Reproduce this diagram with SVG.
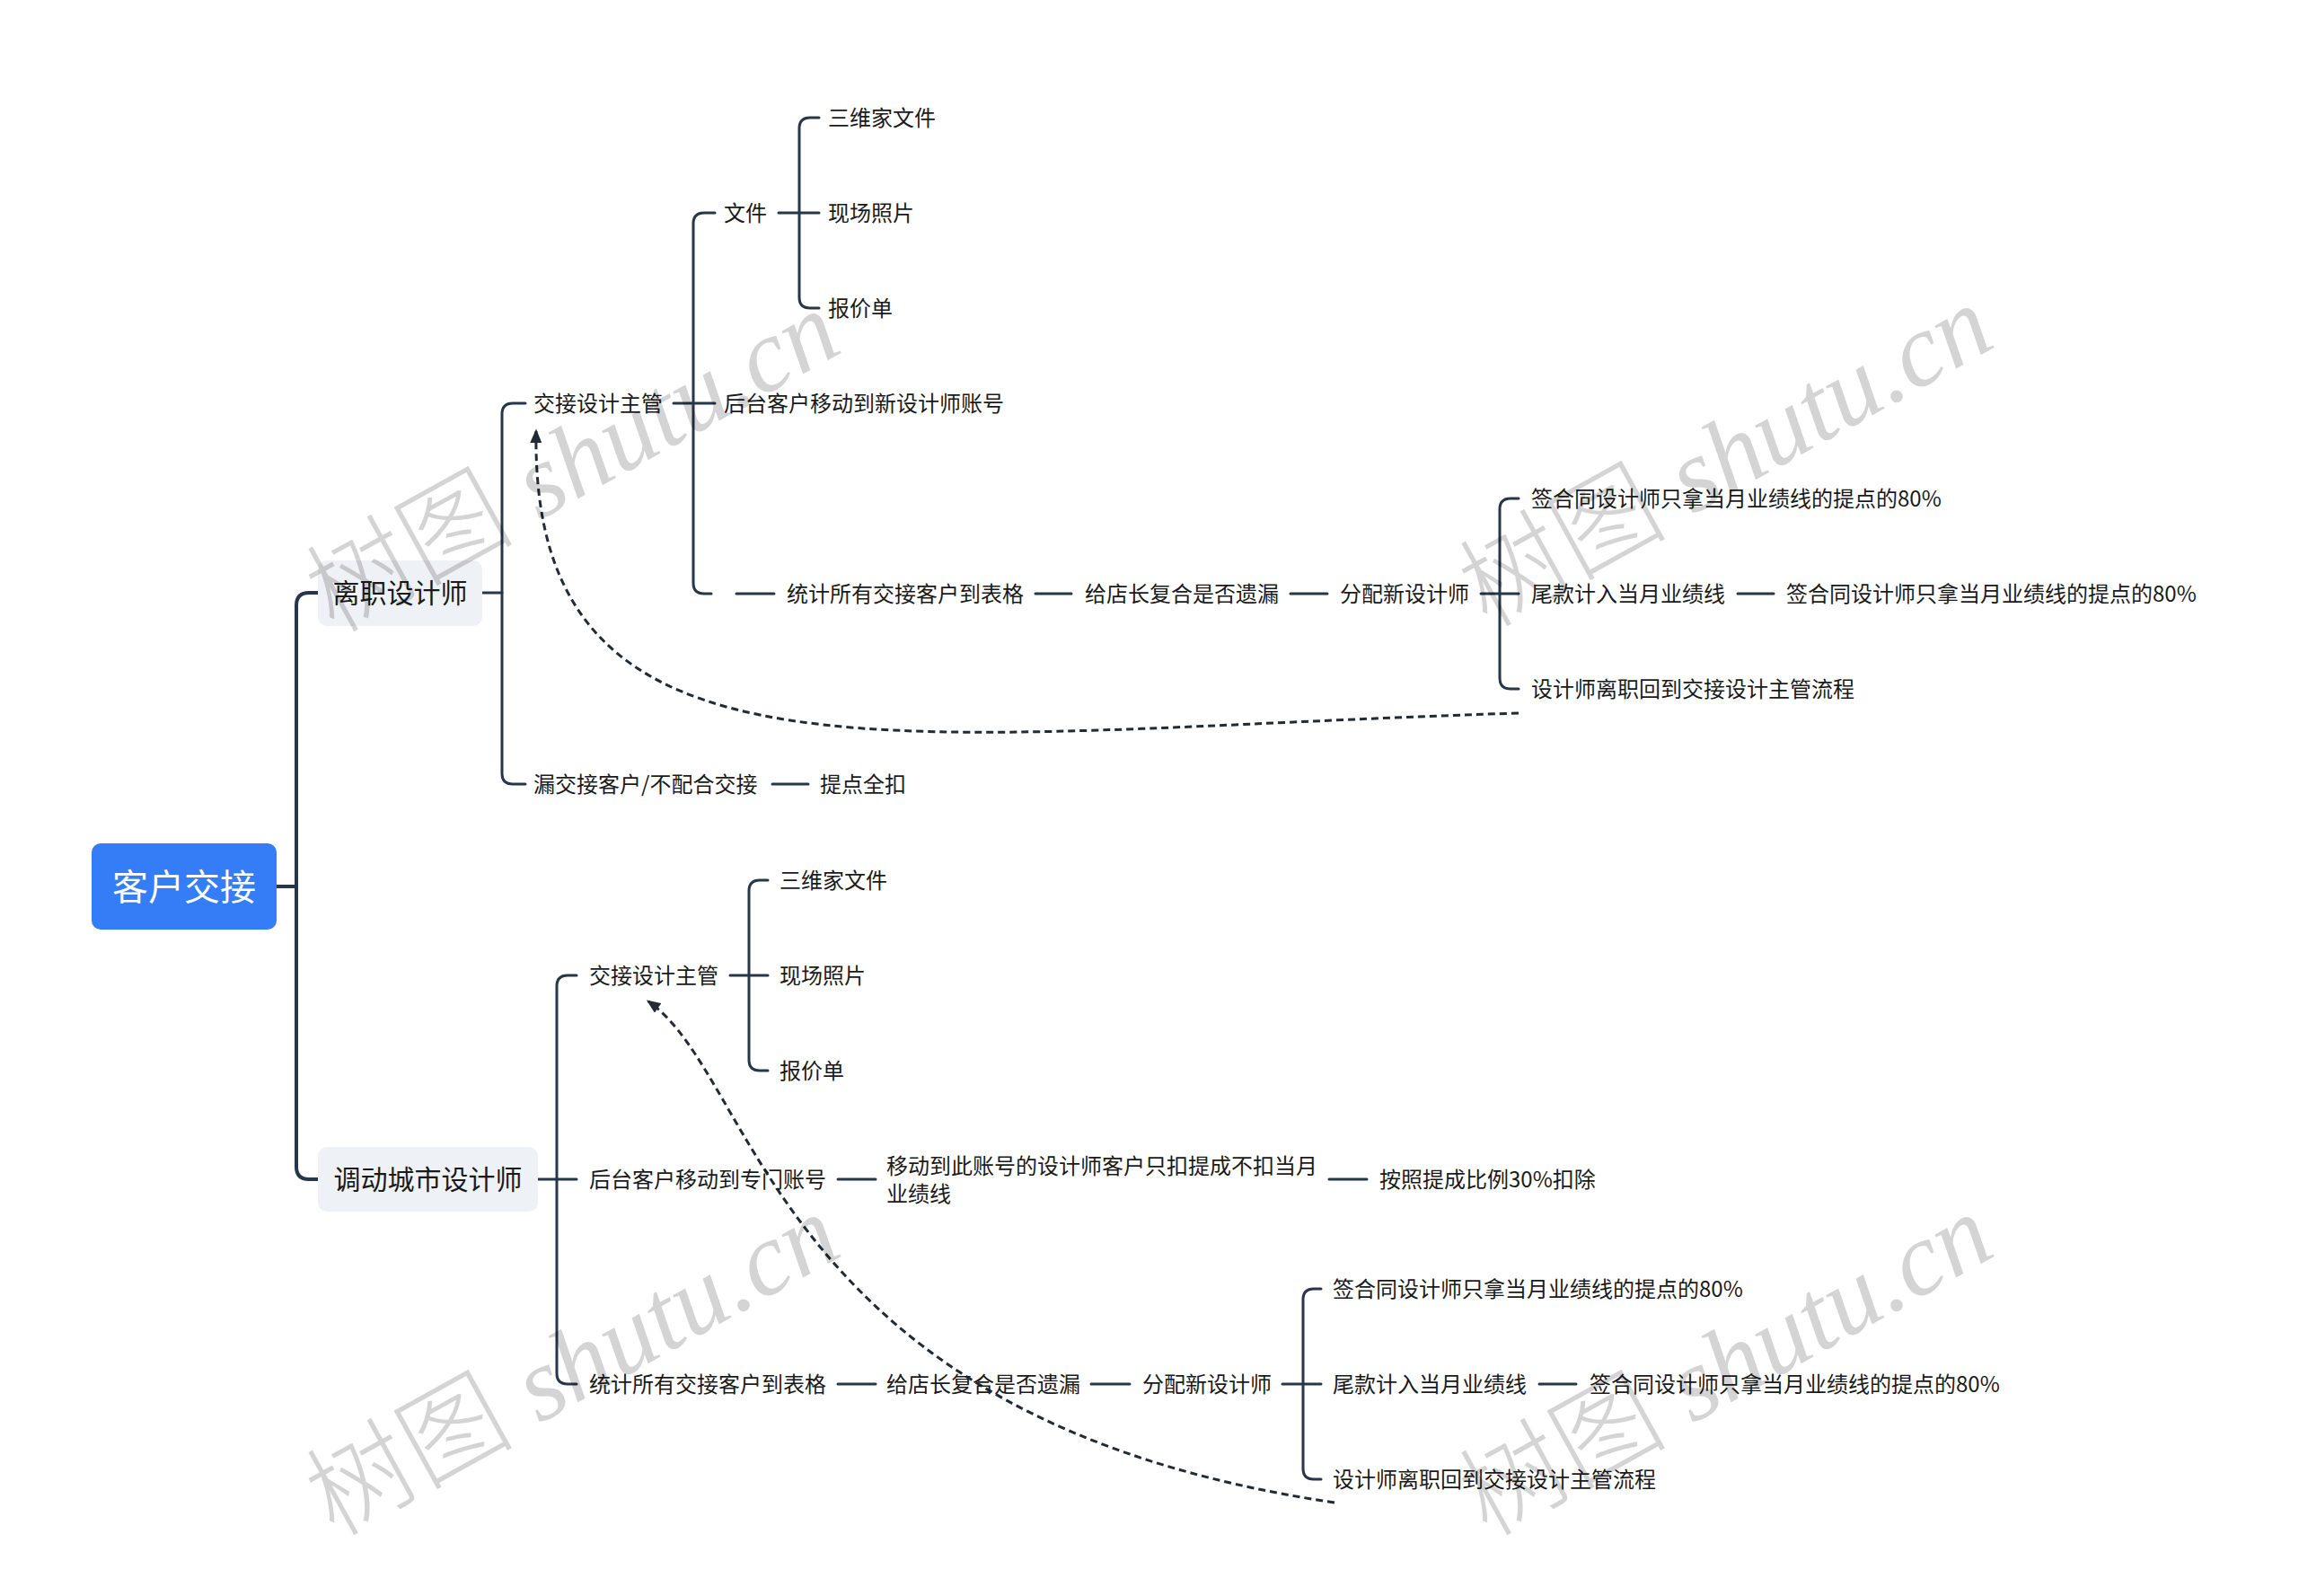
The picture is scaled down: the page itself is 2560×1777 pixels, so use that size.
<svg xmlns="http://www.w3.org/2000/svg" width="2560" height="1777" viewBox="0 0 2560 1777">
<defs>
<style>
.t{font-family:"Noto Sans CJK SC","Liberation Sans",sans-serif;font-size:24px;fill:#1a1a1a;dominant-baseline:central}
.l1{font-family:"Noto Sans CJK SC","Liberation Sans",sans-serif;font-size:30px;fill:#1a1a1a;dominant-baseline:central;text-anchor:middle}
.root{font-family:"Noto Sans CJK SC","Liberation Sans",sans-serif;font-size:40px;fill:#ffffff;dominant-baseline:central;text-anchor:middle}
.c{fill:none;stroke:#27364a;stroke-width:3;stroke-linecap:round}
.c4{fill:none;stroke:#27364a;stroke-width:4;stroke-linecap:round}
.rel{fill:none;stroke:#222a33;stroke-width:3;stroke-dasharray:8 5}
.wm{font-family:"Liberation Serif","Noto Sans CJK SC",serif;font-style:italic;font-size:116px;fill:#000;fill-opacity:0.17}
.wm tspan.cj{font-family:"Noto Sans CJK SC",sans-serif;font-style:normal;font-weight:300}
</style>
<marker id="arr" viewBox="0 0 12 10" refX="10" refY="5" markerWidth="16" markerHeight="13" markerUnits="userSpaceOnUse" orient="auto">
<path d="M0,0 L12,5 L0,10 z" fill="#222a33"/>
</marker>
</defs>
<rect width="2560" height="1777" fill="#ffffff"/>

<g id="connectors">
<path class="c4" d="M308,987 H330"/>
<path class="c4" d="M354,660 H344 Q330,660 330,674 V1299 Q330,1313 344,1313 H354"/>
<path class="c" d="M537,660 H559"/>
<path class="c" d="M585,449 H571 Q559,449 559,461 V861 Q559,873 571,873 H585"/>
<path class="c" d="M750,449 H796"/>
<path class="c" d="M796,237 H784 Q772,237 772,249 V649 Q772,661 784,661 H792"/>
<path class="c" d="M867,237 H912"/>
<path class="c" d="M912,131 H902 Q890,131 890,143 V331 Q890,343 902,343 H912"/>
<path class="c" d="M820,661 H862"/>
<path class="c" d="M1153,661 H1193"/>
<path class="c" d="M1437,661 H1478"/>
<path class="c" d="M1649,661 H1691"/>
<path class="c" d="M1691,555 H1682 Q1670,555 1670,567 V755 Q1670,767 1682,767 H1691"/>
<path class="c" d="M1935,661 H1975"/>
<path class="c" d="M860,873 H900"/>
<path class="c" d="M599,1313 H642"/>
<path class="c" d="M642,1086 H632 Q620,1086 620,1098 V1529 Q620,1541 632,1541 H642"/>
<path class="c" d="M813,1086 H855"/>
<path class="c" d="M855,980 H846 Q834,980 834,992 V1180 Q834,1192 846,1192 H855"/>
<path class="c" d="M933,1313 H975"/>
<path class="c" d="M1480,1313 H1522"/>
<path class="c" d="M933,1541 H975"/>
<path class="c" d="M1215,1541 H1258"/>
<path class="c" d="M1428,1541 H1471"/>
<path class="c" d="M1471,1435 H1463 Q1451,1435 1451,1447 V1635 Q1451,1647 1463,1647 H1471"/>
<path class="c" d="M1714,1541 H1755"/>
<path class="rel" d="M1691,794 C1000,815 590,900 597,480" marker-end="url(#arr)"/>
<path class="rel" d="M1486,1673 C860,1580 845,1200 722,1115" marker-end="url(#arr)"/>
</g>

<g id="root">
<rect x="102" y="939" width="206" height="96" rx="10" fill="#347df6"/>
<text class="root" x="205" y="985">客户交接</text>
</g>

<g id="n-lizhi">
<rect x="354" y="624" width="183" height="73" rx="10" fill="#eef1f5"/>
<text class="l1" x="445.5" y="658">离职设计师</text>
</g>
<g id="n-jiaojie1"><text class="t" x="594" y="447">交接设计主管</text></g>
<g id="n-wenjian"><text class="t" x="806" y="235">文件</text></g>
<g id="n-sanwei1"><text class="t" x="922" y="129">三维家文件</text></g>
<g id="n-xianchang1"><text class="t" x="922" y="235">现场照片</text></g>
<g id="n-baojia1"><text class="t" x="922" y="341">报价单</text></g>
<g id="n-houtai1"><text class="t" x="806" y="447">后台客户移动到新设计师账号</text></g>
<g id="n-tongji1"><text class="t" x="876" y="659">统计所有交接客户到表格</text></g>
<g id="n-gei1"><text class="t" x="1208" y="659">给店长复合是否遗漏</text></g>
<g id="n-fenpei1"><text class="t" x="1492" y="659">分配新设计师</text></g>
<g id="n-qian1a"><text class="t" x="1705" y="553">签合同设计师只拿当月业绩线的提点的80%</text></g>
<g id="n-weikuan1"><text class="t" x="1705" y="659">尾款计入当月业绩线</text></g>
<g id="n-qian1b"><text class="t" x="1989" y="659">签合同设计师只拿当月业绩线的提点的80%</text></g>
<g id="n-lizhi1"><text class="t" x="1705" y="765">设计师离职回到交接设计主管流程</text></g>
<g id="n-lou"><text class="t" x="594" y="871">漏交接客户/不配合交接</text></g>
<g id="n-tidian"><text class="t" x="913" y="871">提点全扣</text></g>

<g id="n-diaodong">
<rect x="354" y="1277" width="245" height="72" rx="10" fill="#eef1f5"/>
<text class="l1" x="476.5" y="1311">调动城市设计师</text>
</g>
<g id="n-jiaojie2"><text class="t" x="656" y="1084">交接设计主管</text></g>
<g id="n-sanwei2"><text class="t" x="868" y="978">三维家文件</text></g>
<g id="n-xianchang2"><text class="t" x="868" y="1084">现场照片</text></g>
<g id="n-baojia2"><text class="t" x="868" y="1190">报价单</text></g>
<g id="n-houtai2"><text class="t" x="656" y="1311">后台客户移动到专门账号</text></g>
<g id="n-yidong"><text class="t" x="987" y="1296">移动到此账号的设计师客户只扣提成不扣当月</text><text class="t" x="987" y="1327">业绩线</text></g>
<g id="n-anzhao"><text class="t" x="1536" y="1311">按照提成比例30%扣除</text></g>
<g id="n-tongji2"><text class="t" x="656" y="1539">统计所有交接客户到表格</text></g>
<g id="n-gei2"><text class="t" x="987" y="1539">给店长复合是否遗漏</text></g>
<g id="n-fenpei2"><text class="t" x="1272" y="1539">分配新设计师</text></g>
<g id="n-qian2a"><text class="t" x="1484" y="1433">签合同设计师只拿当月业绩线的提点的80%</text></g>
<g id="n-weikuan2"><text class="t" x="1484" y="1539">尾款计入当月业绩线</text></g>
<g id="n-qian2b"><text class="t" x="1770" y="1539">签合同设计师只拿当月业绩线的提点的80%</text></g>
<g id="n-lizhi2"><text class="t" x="1484" y="1645">设计师离职回到交接设计主管流程</text></g>

<g id="watermarks">
<text class="wm" transform="translate(372,706) rotate(-29)"><tspan class="cj">树图</tspan> shutu.cn</text>
<text class="wm" transform="translate(1656,700) rotate(-29)"><tspan class="cj">树图</tspan> shutu.cn</text>
<text class="wm" transform="translate(372,1712) rotate(-29)"><tspan class="cj">树图</tspan> shutu.cn</text>
<text class="wm" transform="translate(1656,1712) rotate(-29)"><tspan class="cj">树图</tspan> shutu.cn</text>
</g>
</svg>
